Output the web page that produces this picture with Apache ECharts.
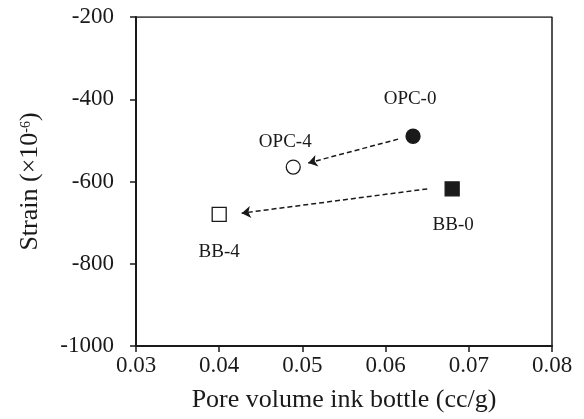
<!DOCTYPE html>
<html>
<head>
<meta charset="utf-8">
<script src="https://cdn.jsdelivr.net/npm/echarts@6/dist/echarts.min.js"></script>
<style>html,body{margin:0;padding:0;background:#fff;}</style>
</head>
<body>
<div id="chart" style="width:584px;height:419px;"></div>
<script>
// sample names and values
var names = ['OPC-0', 'OPC-4', 'BB-0', 'BB-4'];
var poreVolume = [0.0633, 0.0489, 0.068, 0.040];
var strain = [-490, -565, -618, -680];

// arrows: [x0, y0, x1, y1]
var arrowOPC = [0.0615, -497, 0.0507, -555];
var arrowBB = [0.0650, -618, 0.0427, -677];

var font = 'Liberation Serif';
var ink = '#1a1a1a';

var chart = echarts.init(document.getElementById('chart'));

function pt(i, symbol, filled, labelPos, labelDist, dx) {
    return {
        name: names[i],
        value: [poreVolume[i], strain[i]],
        symbol: symbol,
        itemStyle: {
            color: filled ? ink : '#fff',
            borderColor: ink,
            borderWidth: 1.3,
            opacity: 1
        },
        label: { position: labelPos, distance: labelDist, offset: [dx || 0, 0] }
    };
}

chart.setOption({
    animation: false,
    grid: { left: 136, right: 32, top: 17, bottom: 73 },
    xAxis: {
        type: 'value',
        min: 0.03, max: 0.08, interval: 0.01,
        name: 'Pore volume ink bottle (cc/g)',
        nameLocation: 'middle',
        nameGap: 41,
        nameTextStyle: { fontFamily: font, fontSize: 26, color: ink },
        axisLine: { lineStyle: { color: ink, width: 2 } },
        axisTick: { show: true, length: 6, lineStyle: { color: ink, width: 1.5 } },
        axisLabel: { fontFamily: font, fontSize: 23, color: ink, margin: 8,
            formatter: function (v) { return v.toFixed(2); } },
        splitLine: { show: false }
    },
    yAxis: {
        type: 'value',
        min: -1000, max: -200, interval: 200,
        name: '{a|Strain (×10}{s|-6}{a|)}',
        nameLocation: 'middle',
        nameGap: 93,
        nameTextStyle: {
            rich: {
                a: { fontFamily: font, fontSize: 26, color: ink },
                s: { fontFamily: font, fontSize: 14, color: ink, verticalAlign: 'bottom', padding: [0, 0, 10, 0] }
            }
        },
        axisLine: { lineStyle: { color: ink, width: 2 } },
        axisTick: { show: true, length: 6, lineStyle: { color: ink, width: 1.5 } },
        axisLabel: { fontFamily: font, fontSize: 23, color: ink, margin: 22,
            formatter: function (v) { return String(v); } },
        splitLine: { show: false }
    },
    series: [
        {
            // frame on top and right
            type: 'line',
            data: [[0.03, -200], [0.08, -200], [0.08, -1000]],
            symbol: 'none',
            lineStyle: { color: ink, width: 1.5 },
            silent: true,
            z: 1
        },
        {
            type: 'lines',
            coordinateSystem: 'cartesian2d',
            symbol: ['none', 'arrow'],
            symbolSize: 9,
            lineStyle: { color: ink, width: 1.5, type: [5, 3], opacity: 1 },
            data: [
                { coords: [[arrowOPC[0], arrowOPC[1]], [arrowOPC[2], arrowOPC[3]]] },
                { coords: [[arrowBB[0], arrowBB[1]], [arrowBB[2], arrowBB[3]]] }
            ],
            z: 2
        },
        {
            type: 'scatter',
            symbolSize: 14,
            label: {
                show: true,
                formatter: '{b}',
                fontFamily: font,
                fontSize: 19,
                color: ink
            },
            data: [
                pt(0, 'circle', true, 'top', 20, -3),
                pt(1, 'circle', false, 'top', 8, -8),
                pt(2, 'rect', true, 'bottom', 19, 1),
                pt(3, 'rect', false, 'bottom', 20, 0)
            ],
            z: 3
        }
    ]
});
</script>
</body>
</html>
